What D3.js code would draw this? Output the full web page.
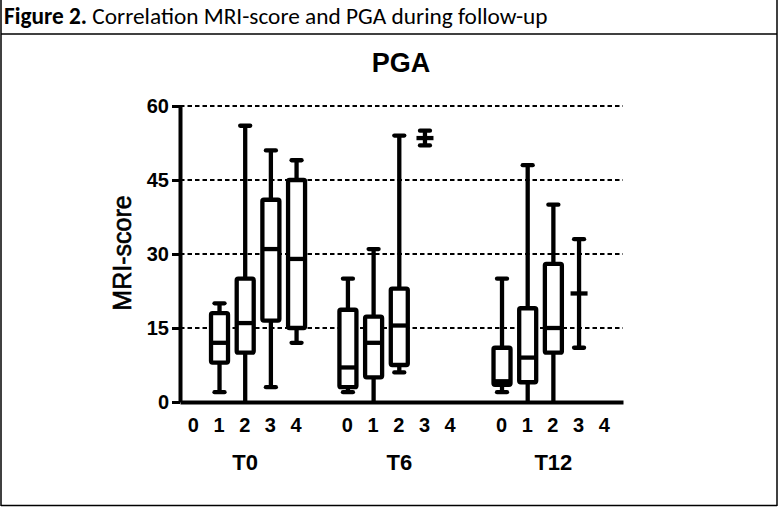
<!DOCTYPE html>
<html><head><meta charset="utf-8">
<script src="https://cdn.jsdelivr.net/npm/d3@7"></script>
<style>
html,body{margin:0;padding:0;background:#fff;}
svg{display:block;}
</style></head>
<body>
<svg id="chart" width="779" height="508"></svg>
<script>
// ---- data ----
const groups = ["T0", "T6", "T12"];
const categories = ["0", "1", "2", "3", "4"];
const yTicks = [0, 15, 30, 45, 60];
// one entry per (group, category); null = no box
const boxGroup = ["T0","T0","T0","T0","T0", "T6","T6","T6","T6","T6", "T12","T12","T12","T12","T12"];
const boxCat   = ["0","1","2","3","4", "0","1","2","3","4", "0","1","2","3","4"];
const mins    = [null, 2, 0, 3, 12,   2, 0, 6, 52, null,   2, 0, 0, 11, null];
const q1s     = [null, 8, 10, 16.5, 15,   3, 5, 7.5, 53.5, null,   3.5, 4, 10, 22, null];
const medians = [null, 12, 16, 31, 29,   7, 12, 15.5, 53.5, null,   4.2, 9, 15, 22, null];
const q3s     = [null, 18, 25, 41, 45,   18.7, 17.3, 23, 53.5, null,   11, 19, 28, 22, null];
const maxs    = [null, 20, 56, 51, 49,   25, 31, 54, 55, null,   25, 48, 40, 33, null];

// ---- layout ----
const svg = d3.select("#chart");
const W = 779, H = 508;
const axL = 180, axR = 623, axT = 106, axB = 402;
const slotOf = (g, c) => groups.indexOf(g) * 6 + categories.indexOf(c);
const x = d3.scaleLinear().domain([-0.5, 16.75]).range([axL, axR]);
const y = d3.scaleLinear().domain([0, 60]).range([axB, axT]);

// frame
svg.append("line").attr("x1", 1).attr("x2", 1).attr("y1", 0).attr("y2", H - 2).attr("stroke", "#000").attr("stroke-width", 1.5);
svg.append("line").attr("x1", W - 2).attr("x2", W - 2).attr("y1", 0).attr("y2", H - 2).attr("stroke", "#000").attr("stroke-width", 1.5);
svg.append("line").attr("x1", 1).attr("x2", W - 2).attr("y1", H - 2.5).attr("y2", H - 2.5).attr("stroke", "#000").attr("stroke-width", 1.5);
svg.append("line").attr("x1", 1).attr("x2", W - 2).attr("y1", 34).attr("y2", 34).attr("stroke", "#000").attr("stroke-width", 1.5);

// caption
const cap = svg.append("text").attr("x", 4).attr("y", 24)
  .attr("font-family", "Carlito, Lato, 'Open Sans', sans-serif").attr("font-size", 18).attr("fill", "#000");
cap.append("tspan").attr("font-weight", "bold").text("Figure 2.");
cap.append("tspan").text(" Correlation MRI-score and PGA during follow-up");
const cw = cap.node().getBBox().width;
cap.attr("font-size", 18 * 544 / cw);

// chart title
svg.append("text").attr("x", 401).attr("y", 72).attr("text-anchor", "middle")
  .attr("font-family", "'Liberation Sans', Arial, sans-serif").attr("font-weight", "bold")
  .attr("font-size", 27).text("PGA");

// gridlines
svg.append("g").selectAll("line").data(yTicks.filter(v => v > 0)).join("line")
  .attr("x1", axL).attr("x2", axR).attr("y1", d => y(d)).attr("y2", d => y(d))
  .attr("stroke", "#000").attr("stroke-width", 1.8).attr("stroke-dasharray", "4.5,3");

// boxes
const bw = 17, capW = 10, sw = 4.3;
const boxes = boxGroup.map((g, i) => ({g, c: boxCat[i], min: mins[i], q1: q1s[i], med: medians[i], q3: q3s[i], max: maxs[i]}))
  .filter(d => d.med !== null);
const bg = svg.append("g").attr("stroke", "#000").attr("stroke-width", sw);
boxes.forEach(d => {
  const cx = x(slotOf(d.g, d.c)) + 1;
  const gg = bg.append("g");
  // whiskers
  gg.append("line").attr("x1", cx).attr("x2", cx).attr("y1", y(d.max)).attr("y2", y(d.q3));
  gg.append("line").attr("x1", cx).attr("x2", cx).attr("y1", y(d.q1)).attr("y2", y(d.min));
  // caps
  [d.max, d.min].forEach(v => {
    if (v > 0) gg.append("line").attr("x1", cx - capW / 2).attr("x2", cx + capW / 2)
      .attr("y1", y(v)).attr("y2", y(v)).attr("stroke-linecap", "round");
  });
  // box
  if (d.q3 > d.q1) {
    gg.append("rect").attr("x", cx - bw / 2).attr("width", bw)
      .attr("y", y(d.q3)).attr("height", y(d.q1) - y(d.q3))
      .attr("fill", "#fff").attr("rx", 1.5);
  }
  // median
  gg.append("line").attr("x1", cx - bw / 2).attr("x2", cx + bw / 2)
    .attr("y1", y(d.med)).attr("y2", y(d.med));
});

// y axis
const yAxis = svg.append("g").attr("transform", `translate(${axL},0)`)
  .call(d3.axisLeft(y).tickValues(yTicks).tickSize(8).tickSizeOuter(0).tickPadding(3));
yAxis.select(".domain").attr("stroke-width", 4).attr("stroke", "#000");
yAxis.selectAll(".tick line").attr("stroke-width", 3).attr("stroke", "#000");
yAxis.selectAll(".tick text").attr("font-family", "'Liberation Sans', Arial, sans-serif")
  .attr("font-weight", "bold").attr("font-size", 20).attr("fill", "#000");

// x axis
const slots = [];
groups.forEach(g => categories.forEach(c => slots.push({g, c, s: slotOf(g, c)})));
const xAxis = svg.append("g").attr("transform", `translate(0,${axB})`)
  .call(d3.axisBottom(x).tickValues(slots.map(d => d.s)).tickFormat((v, i) => slots[i].c)
    .tickSize(0).tickSizeOuter(0).tickPadding(16));
xAxis.select(".domain").attr("stroke-width", 4).attr("stroke", "#000");
xAxis.selectAll(".tick text").attr("font-family", "'Liberation Sans', Arial, sans-serif")
  .attr("font-weight", "bold").attr("font-size", 20).attr("fill", "#000");

// group labels
svg.append("g").selectAll("text").data(groups).join("text")
  .attr("x", g => x(slotOf(g, "2")) + 1).attr("y", 470).attr("text-anchor", "middle")
  .attr("font-family", "'Liberation Sans', Arial, sans-serif").attr("font-weight", "bold")
  .attr("font-size", 22).text(g => g);

// y title
svg.append("text").attr("transform", "translate(131,253) rotate(-90)")
  .attr("text-anchor", "middle")
  .attr("font-family", "'Liberation Sans', Arial, sans-serif")
  .attr("font-size", 25).attr("stroke", "#000").attr("stroke-width", 0.6).text("MRI-score");
</script>
</body></html>
